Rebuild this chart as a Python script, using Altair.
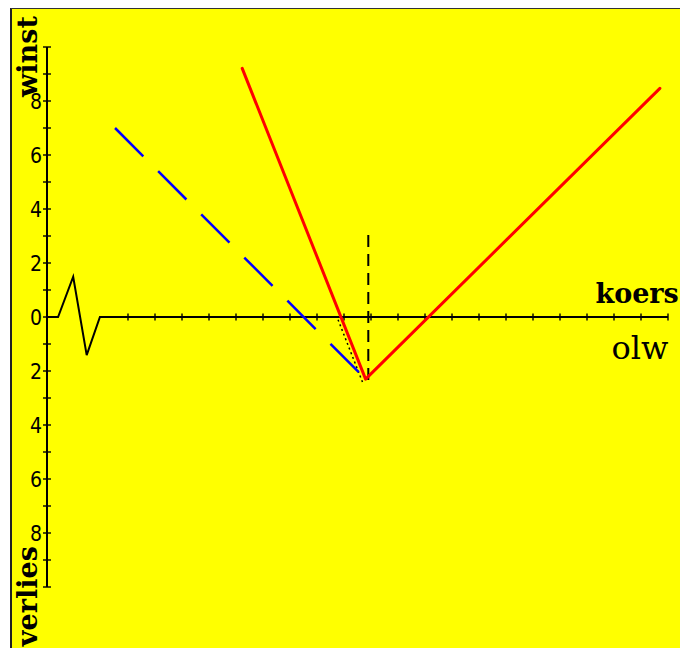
import altair as alt
import pandas as pd

# ---- data ----
y_ticks = list(range(-10, 11))
y_label_vals = [8, 6, 4, 2, 0, -2, -4, -6, -8]
y_label_text = ["8", "6", "4", "2", "0", "2", "4", "6", "8"]

x_ticks = list(range(3, 24))

# horizontal axis with zigzag break near origin
axis_x = [0.0, 0.41, 0.97, 1.47, 1.96, 23.0]
axis_y = [0.0, 0.0, 1.49, -1.41, 0.0, 0.0]

# red V line
red_x = [7.23, 11.8, 22.7]
red_y = [9.21, -2.3, 8.47]

# blue dashed line
blue_x = [2.52, 11.8]
blue_y = [7.0, -2.3]

# black dashed vertical
vdash_x = [11.9, 11.9]
vdash_y = [3.04, -2.52]

# black dotted shadow under red line
shadow_x = [10.78, 11.72]
shadow_y = [-0.1, -2.5]

labels = [
    {"x": -0.37, "y": 8.15, "text": "winst"},
    {"x": -0.37, "y": -12.19, "text": "verlies"},
]
koers = [{"x": 23.4, "y": 0.52, "text": "koers"}]
olw = [{"x": 21.96, "y": -1.556, "text": "olw"}]

# ---- scales ----
W, H = 669, 640
X_DOM = [-36 / 27, (W - 36) / 27]
Y_DOM = [309 / 27 - H / 27, 309 / 27]
xs = alt.Scale(domain=X_DOM, nice=False, zero=False)
ys = alt.Scale(domain=Y_DOM, nice=False, zero=False)


def XY():
    return dict(x=alt.X("x:Q", scale=xs, axis=None), y=alt.Y("y:Q", scale=ys, axis=None))


def line_df(xv, yv):
    return pd.DataFrame({"x": xv, "y": yv, "o": list(range(len(xv)))})


frame_left = alt.Chart(pd.DataFrame({"a": [0]})).mark_rule(color="#222222", strokeWidth=2).encode(
    x=alt.value(0), y=alt.value(0), y2=alt.value(H))
frame_top = alt.Chart(pd.DataFrame({"a": [0]})).mark_rule(color="#333333", strokeWidth=2).encode(
    x=alt.value(0), x2=alt.value(W), y=alt.value(0))

y_axis_line = alt.Chart(line_df([0, 0], [-10, 10])).mark_line(color="black", strokeWidth=2).encode(
    **XY(), order="o:Q")
y_tick_marks = alt.Chart(pd.DataFrame({"x": [0] * len(y_ticks), "y": y_ticks})).mark_tick(
    orient="horizontal", size=8, thickness=2, color="black").encode(**XY())
y_labels = alt.Chart(pd.DataFrame({"x": [0] * len(y_label_vals), "y": y_label_vals, "t": y_label_text})).mark_text(
    align="right", baseline="middle", dx=-5, dy=2, fontSize=21,
    font="Liberation Sans Narrow, DejaVu Sans Condensed, sans-serif", color="black").encode(**XY(), text="t:N")

x_axis_line = alt.Chart(line_df(axis_x, axis_y)).mark_line(color="black", strokeWidth=2).encode(
    **XY(), order="o:Q")
x_tick_marks = alt.Chart(pd.DataFrame({"x": x_ticks, "y": [0] * len(x_ticks)})).mark_tick(
    orient="vertical", size=7, thickness=2, color="black").encode(**XY())

vdash = alt.Chart(line_df(vdash_x, vdash_y)).mark_line(
    color="black", strokeWidth=2, strokeDash=[12, 7]).encode(**XY(), order="o:Q")
shadow = alt.Chart(line_df(shadow_x, shadow_y)).mark_line(
    color="black", strokeWidth=1.5, strokeDash=[2, 3]).encode(**XY(), order="o:Q")
blue = alt.Chart(line_df(blue_x, blue_y)).mark_line(
    color="#0000FF", strokeWidth=2.5, strokeDash=[40, 21]).encode(**XY(), order="o:Q")
red = alt.Chart(line_df(red_x, red_y)).mark_line(
    color="#FF0000", strokeWidth=3, strokeCap="round", strokeJoin="round").encode(**XY(), order="o:Q")

side_labels = alt.Chart(pd.DataFrame(labels)).mark_text(
    angle=270, align="left", baseline="alphabetic", font="DejaVu Serif", fontWeight="bold",
    fontSize=27, color="black").encode(**XY(), text="text:N")
koers_lbl = alt.Chart(pd.DataFrame(koers)).mark_text(
    align="right", baseline="alphabetic", font="DejaVu Serif", fontWeight="bold",
    fontSize=27, color="black").encode(**XY(), text="text:N")
olw_lbl = alt.Chart(pd.DataFrame(olw)).mark_text(
    align="center", baseline="alphabetic", font="DejaVu Serif", fontSize=32,
    color="black").encode(**XY(), text="text:N")

chart = alt.layer(
    frame_left, frame_top,
    y_axis_line, y_tick_marks, y_labels,
    x_axis_line, x_tick_marks,
    vdash, shadow, blue, red,
    side_labels, koers_lbl, olw_lbl,
).properties(
    width=W, height=H,
    padding={"left": 3, "top": 0, "right": 0, "bottom": 0},
    autosize=alt.AutoSizeParams(type="none"),
    background="white",
).configure_view(fill="#FFFF00", stroke="transparent")

chart.save("out.html", embed_options={"renderer": "svg", "actions": False})
